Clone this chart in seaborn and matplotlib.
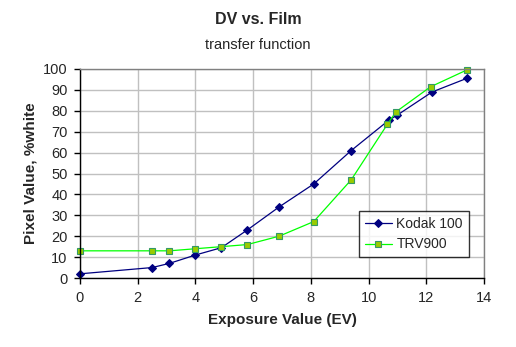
import matplotlib
matplotlib.use("Agg")
import matplotlib.pyplot as plt
import seaborn as sns
import pandas as pd

kodak_ev = [0, 2.5, 3.1, 4.0, 4.9, 5.8, 6.9, 8.1, 9.4, 10.7, 11.0, 12.2, 13.4]
kodak_val = [2, 5, 7, 11, 14.5, 23, 34, 45, 61, 75.5, 78, 89, 95.5]
trv_ev = [0, 2.5, 3.1, 4.0, 4.9, 5.8, 6.9, 8.1, 9.4, 10.65, 10.95, 12.15, 13.4]
trv_val = [13, 13, 13, 14, 15, 16, 20, 27, 47, 73.5, 79.5, 91.5, 99.5]

sns.set_style("white")
plt.rcParams['font.family'] = ['Liberation Sans', 'DejaVu Sans']

fig = plt.figure(figsize=(5.16, 3.47), dpi=100)
ax = fig.add_axes([80/516, 1-278/347, 404/516, 209/347])

dk = pd.DataFrame({"ev": kodak_ev, "v": kodak_val})
dt = pd.DataFrame({"ev": trv_ev, "v": trv_val})
sns.lineplot(data=dk, x="ev", y="v", ax=ax, color="#000080", lw=0.9,
             marker="D", markersize=4.5, markeredgecolor="#000080",
             markerfacecolor="#000080", label="Kodak 100", clip_on=False)
sns.lineplot(data=dt, x="ev", y="v", ax=ax, color="#00ff00", lw=0.9,
             marker="s", markersize=5, markeredgecolor="#339966",
             markerfacecolor="#99cc00", markeredgewidth=0.8, label="TRV900",
             clip_on=False)

ax.set_xlim(0, 14)
ax.set_ylim(0, 100)
ax.set_xticks(range(0, 15, 2))
ax.set_yticks(range(0, 101, 10))
ax.grid(True, color="#c0c0c0", lw=1)
ax.set_axisbelow(True)
for s in ["top", "right"]:
    ax.spines[s].set_color("#808080")
    ax.spines[s].set_linewidth(1)
for s in ["left", "bottom"]:
    ax.spines[s].set_color("black")
    ax.spines[s].set_linewidth(1)
ax.tick_params(axis="both", which="major", direction="out", length=4, width=1,
               color="black", labelsize=10.5, pad=5, bottom=True, left=True)
ax.set_xlabel("Exposure Value (EV)", fontsize=11, fontweight="bold", labelpad=6)
ax.set_ylabel("Pixel Value, %white", fontsize=11, fontweight="bold", labelpad=4)

fig.text(0.5, 1-20/347, "DV vs. Film", ha="center", va="center",
         fontsize=11.5, fontweight="bold")
fig.text(0.5, 1-45/347, "transfer function", ha="center", va="center",
         fontsize=10.5)

leg = ax.legend(loc="lower left", bbox_to_anchor=((359-80)/404, (278-257)/209),
                frameon=True, fancybox=False, edgecolor="black", fontsize=10,
                borderpad=0.4, handlelength=2.0, labelspacing=0.5,
                handletextpad=0.3, borderaxespad=0)
leg.get_frame().set_linewidth(1)

fig.savefig("out.png", dpi=100, facecolor="white")
